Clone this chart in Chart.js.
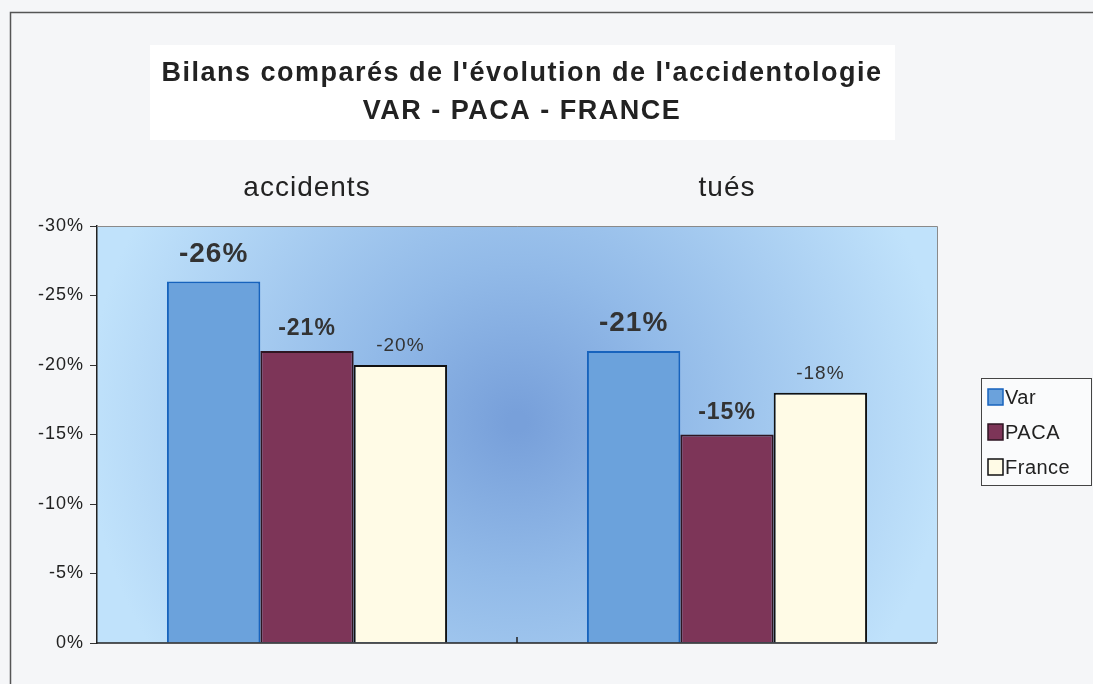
<!DOCTYPE html>
<html>
<head>
<meta charset="utf-8">
<script src="https://cdn.jsdelivr.net/npm/chart.js@4.4.1/dist/chart.umd.min.js"></script>
<style>
  html, body { margin: 0; padding: 0; background: #fff; }
  #wrap { width: 1093px; height: 684px; }
</style>
</head>
<body>
<div id="wrap"><canvas id="chart" width="1093" height="684"></canvas></div>
<script>
// DATA
const categories = ['accidents', 'tués'];
const varValues = [-26, -21];
const pacaValues = [-21, -15];
const franceValues = [-20, -18];
const titleLines = ["Bilans comparés de l'évolution de l'accidentologie", 'VAR - PACA - FRANCE'];

const FONT = "'Liberation Sans', Arial, sans-serif";

// label style per series (Var big bold, PACA bold, France plain)
const labelStyles = [
    { font: 'bold 28px ' + FONT, offset: 20 },
    { font: 'bold 23px ' + FONT, offset: 16 },
    { font: '19px ' + FONT, offset: 14 }
];

// background, frame, title box, legend, value labels
const backdrop = {
    id: 'backdrop',
    beforeDraw(chart) {
        const { ctx, chartArea: a } = chart;
        ctx.save();
        ctx.fillStyle = '#f5f6f8';
        ctx.fillRect(0, 0, chart.width, chart.height);
        ctx.strokeStyle = '#555';
        ctx.lineWidth = 1.5;
        ctx.beginPath();
        ctx.moveTo(10.5, chart.height);
        ctx.lineTo(10.5, 12.5);
        ctx.lineTo(chart.width, 12.5);
        ctx.stroke();

        // plot area gradient
        const cx = (a.left + a.right) / 2, cy = a.top + (a.bottom - a.top) * 0.47;
        const g = ctx.createRadialGradient(cx, cy, 10, cx, cy, 430);
        g.addColorStop(0, '#78a0da');
        g.addColorStop(0.35, '#92bae8');
        g.addColorStop(1, '#c0e2fb');
        ctx.fillStyle = g;
        ctx.fillRect(a.left, a.top, a.right - a.left, a.bottom - a.top);

        // title box
        ctx.fillStyle = '#ffffff';
        ctx.fillRect(150, 45, 745, 95);
        ctx.fillStyle = '#222';
        ctx.textAlign = 'center';
        ctx.textBaseline = 'alphabetic';
        ctx.font = 'bold 27px ' + FONT;
        ctx.letterSpacing = '1.5px';
        ctx.fillText(titleLines[0], 522, 81);
        ctx.fillText(titleLines[1], 522, 119);
        ctx.restore();
        ctx.letterSpacing = '1px';
    },
    afterDraw(chart) {
        const { ctx, chartArea: a } = chart;
        ctx.save();
        // plot borders
        ctx.lineWidth = 1;
        ctx.strokeStyle = '#8a8a8a';
        ctx.beginPath();
        ctx.moveTo(a.left, a.top + 0.5);
        ctx.lineTo(a.right + 0.5, a.top + 0.5);
        ctx.lineTo(a.right + 0.5, a.bottom);
        ctx.stroke();
        ctx.strokeStyle = '#222';
        ctx.lineWidth = 1.5;
        ctx.beginPath();
        ctx.moveTo(a.left, a.bottom);
        ctx.lineTo(a.right, a.bottom);
        const mid = (a.left + a.right) / 2;
        ctx.moveTo(mid, a.bottom);
        ctx.lineTo(mid, a.bottom - 6);
        ctx.stroke();

        // legend
        const lx = 981, ly = 378, lw = 110, lh = 107;
        ctx.fillStyle = '#fafbfc';
        ctx.fillRect(lx, ly, lw, lh);
        ctx.strokeStyle = '#444';
        ctx.lineWidth = 1;
        ctx.strokeRect(lx + 0.5, ly + 0.5, lw, lh);
        ctx.font = '20px ' + FONT;
        ctx.letterSpacing = '0.5px';
        ctx.textAlign = 'left';
        ctx.textBaseline = 'middle';
        chart.data.datasets.forEach((ds, i) => {
            const cy = 397 + i * 35;
            ctx.fillStyle = ds.backgroundColor;
            ctx.fillRect(988, cy - 8, 15, 16);
            ctx.strokeStyle = ds.borderColor;
            ctx.lineWidth = 1.5;
            ctx.strokeRect(988, cy - 8, 15, 16);
            ctx.fillStyle = '#222';
            ctx.fillText(ds.label, 1005, cy + 1);
        });
        ctx.restore();
    },
    afterDatasetsDraw(chart) {
        const { ctx } = chart;
        ctx.save();
        ctx.fillStyle = '#333';
        ctx.textAlign = 'center';
        ctx.textBaseline = 'alphabetic';
        ctx.letterSpacing = '1px';
        chart.data.datasets.forEach((ds, i) => {
            const meta = chart.getDatasetMeta(i);
            const st = labelStyles[i];
            ctx.font = st.font;
            meta.data.forEach((bar, j) => {
                ctx.fillText(ds.data[j] + '%', bar.x, bar.y - st.offset);
            });
        });
        ctx.restore();
    }
};

const ctx = document.getElementById('chart').getContext('2d');
const chart = new Chart(ctx, {
    type: 'bar',
    data: {
        labels: categories,
        datasets: [{
            label: 'Var',
            data: varValues,
            backgroundColor: '#6ba2dc',
            borderColor: '#1763bd',
            borderWidth: 2
        }, {
            label: 'PACA',
            data: pacaValues,
            backgroundColor: '#7d3558',
            borderColor: '#2e1622',
            borderWidth: 2
        }, {
            label: 'France',
            data: franceValues,
            backgroundColor: '#fffbe6',
            borderColor: '#111111',
            borderWidth: 2
        }]
    },
    options: {
        responsive: false,
        animation: false,
        layout: { padding: { left: 12, right: 156, top: 150, bottom: 41 } },
        plugins: {
            legend: { display: false },
            title: { display: false },
            tooltip: { enabled: false }
        },
        datasets: { bar: { categoryPercentage: 0.667, barPercentage: 1.0 } },
        scales: {
            x: {
                position: 'top',
                grid: { display: false },
                border: { display: false },
                ticks: { color: '#222', font: { family: FONT, size: 28 }, padding: 13 },
                afterFit(s) { s.height = 76; }
            },
            y: {
                reverse: true,
                min: -30,
                max: 0,
                grid: { display: true, drawOnChartArea: false, drawTicks: true, tickLength: 7, color: '#333' },
                border: { display: true, color: '#222', width: 1.5 },
                ticks: {
                    stepSize: 5,
                    color: '#222',
                    padding: 6,
                    font: { family: FONT, size: 18 },
                    callback: v => v + '%'
                },
                afterFit(s) { s.width = 85; }
            }
        }
    },
    plugins: [backdrop]
});
</script>
</body>
</html>
